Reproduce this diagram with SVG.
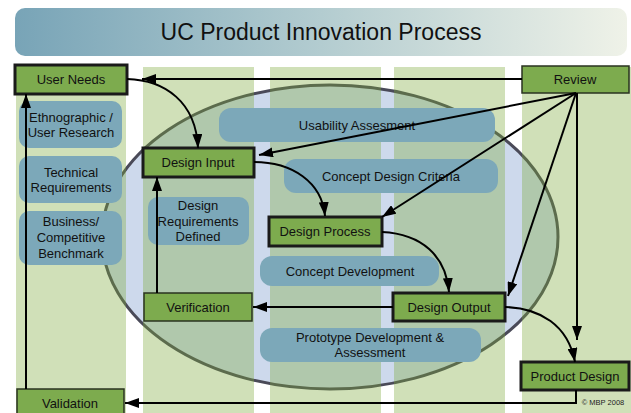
<svg xmlns="http://www.w3.org/2000/svg" width="631" height="413" viewBox="0 0 631 413">
  <defs>
    <linearGradient id="titleGrad" x1="0" y1="0" x2="1" y2="0">
      <stop offset="0" stop-color="#78a4b7"/>
      <stop offset="0.5" stop-color="#b3ccd0"/>
      <stop offset="1" stop-color="#eff2e8"/>
    </linearGradient>
    <marker id="arrow" viewBox="0 0 14 10" markerWidth="14" markerHeight="10" refX="14" refY="5" markerUnits="userSpaceOnUse" orient="auto">
      <path d="M0,0 L14,5 L0,10 z" fill="#000"/>
    </marker>
    <style>
      .band { fill: rgb(125,169,58); fill-opacity: 0.36; }
      .step { fill: #7dab4e; stroke: #1a1a1a; stroke-width: 3; }
      .step.thin { stroke: #2a3320; stroke-width: 1.5; }
      .note { fill: #7ca8b9; }
      .lbl { font-family: "Liberation Sans", Arial, sans-serif; font-size: 13px; fill: #111; text-anchor: middle; }
      .conn { fill: none; stroke: #000; stroke-width: 2; }
      .arr { marker-end: url(#arrow); }
    </style>
  </defs>

  <rect width="631" height="413" fill="#fff"/>

  <!-- title bar -->
  <g id="title">
    <rect x="15" y="8" width="612" height="48" rx="10" fill="url(#titleGrad)"/>
    <text x="321" y="40" font-family="'Liberation Sans', Arial, sans-serif" font-size="23" fill="#111" text-anchor="middle">UC Product Innovation Process</text>
  </g>

  <!-- process ellipse (under the column bands) -->
  <ellipse cx="330" cy="237" rx="228" ry="152" fill="#cdd9ec" stroke="#4a4a58" stroke-width="3"/>

  <!-- column bands -->
  <g id="bands">
    <rect class="band" x="16" y="67" width="110" height="346"/>
    <rect class="band" x="143" y="67" width="111" height="346"/>
    <rect class="band" x="270" y="67" width="111" height="346"/>
    <rect class="band" x="394" y="67" width="111" height="346"/>
    <rect class="band" x="522" y="67" width="109" height="346"/>
  </g>

  <!-- activity notes -->
  <g id="note-ethnographic">
    <rect class="note" x="19" y="101" width="103" height="47" rx="10"/>
    <text class="lbl" x="71" y="122">Ethnographic /</text>
    <text class="lbl" x="71" y="137">User Research</text>
  </g>
  <g id="note-technical">
    <rect class="note" x="19" y="156" width="103" height="47" rx="10"/>
    <text class="lbl" x="71" y="177">Technical</text>
    <text class="lbl" x="71" y="192">Requirements</text>
  </g>
  <g id="note-business">
    <rect class="note" x="19" y="211" width="103" height="54" rx="10"/>
    <text class="lbl" x="71" y="226">Business/</text>
    <text class="lbl" x="71" y="242">Competitive</text>
    <text class="lbl" x="71" y="258">Benchmark</text>
  </g>
  <g id="note-requirements">
    <rect class="note" x="148" y="197" width="101" height="48" rx="10"/>
    <text class="lbl" x="198" y="210">Design</text>
    <text class="lbl" x="198" y="226">Requirements</text>
    <text class="lbl" x="198" y="241">Defined</text>
  </g>
  <g id="note-usability">
    <rect class="note" x="219" y="108" width="276" height="34" rx="12"/>
    <text class="lbl" x="357" y="130">Usability Assesment</text>
  </g>
  <g id="note-criteria">
    <rect class="note" x="284" y="159" width="214" height="34" rx="12"/>
    <text class="lbl" x="391" y="181">Concept Design Criteria</text>
  </g>
  <g id="note-concept">
    <rect class="note" x="260" y="256" width="179" height="30" rx="12"/>
    <text class="lbl" x="350" y="276">Concept Development</text>
  </g>
  <g id="note-prototype">
    <rect class="note" x="260" y="328" width="221" height="34" rx="12"/>
    <text class="lbl" x="370" y="342">Prototype Development &amp;</text>
    <text class="lbl" x="370" y="357">Assessment</text>
  </g>

  <!-- process steps -->
  <g id="user-needs">
    <rect class="step" x="15" y="65" width="112" height="29"/>
    <text class="lbl" x="71" y="84">User Needs</text>
  </g>
  <g id="review">
    <rect class="step thin" x="522" y="66" width="107" height="27"/>
    <text class="lbl" x="575" y="84">Review</text>
  </g>
  <g id="design-input">
    <rect class="step" x="143" y="148" width="111" height="29"/>
    <text class="lbl" x="198" y="167">Design Input</text>
  </g>
  <g id="design-process">
    <rect class="step" x="269" y="217" width="113" height="29"/>
    <text class="lbl" x="325" y="236">Design Process</text>
  </g>
  <g id="design-output">
    <rect class="step" x="393" y="293" width="112" height="28"/>
    <text class="lbl" x="449" y="312">Design Output</text>
  </g>
  <g id="verification">
    <rect class="step thin" x="144" y="293" width="108" height="28"/>
    <text class="lbl" x="198" y="312">Verification</text>
  </g>
  <g id="product-design">
    <rect class="step" x="521" y="362" width="108" height="28"/>
    <text class="lbl" x="575" y="381">Product Design</text>
  </g>
  <g id="validation">
    <rect class="step thin" x="17" y="389" width="107" height="30"/>
    <text class="lbl" x="70" y="408">Validation</text>
  </g>

  <!-- connectors -->
  <g id="connectors">
    <path class="conn arr" d="M522,79 L142,79"/>
    <path class="conn arr" d="M127,79 C165,80 196,102 198,148"/>
    <path class="conn arr" d="M576,93 L259,155"/>
    <path class="conn arr" d="M576,93 L382,217"/>
    <path class="conn arr" d="M576,93 L508,296"/>
    <path class="conn arr" d="M577,93 L577,340"/>
    <path class="conn arr" d="M254,162 C292,162 322,182 325,216"/>
    <path class="conn arr" d="M382,232 C422,234 446,256 449,292"/>
    <path class="conn arr" d="M393,307 L253,307"/>
    <path class="conn arr" d="M157,293 L157,177"/>
    <path class="conn arr" d="M505,307 C540,308 568,325 575,362"/>
    <path class="conn arr" d="M576,390 L576,403 L125,403"/>
    <path class="conn arr" d="M26,389 L26,94"/>
  </g>

  <text x="603" y="405" font-family="'Liberation Sans', Arial, sans-serif" font-size="7.5" fill="#222" text-anchor="middle">© MBP 2008</text>
</svg>
